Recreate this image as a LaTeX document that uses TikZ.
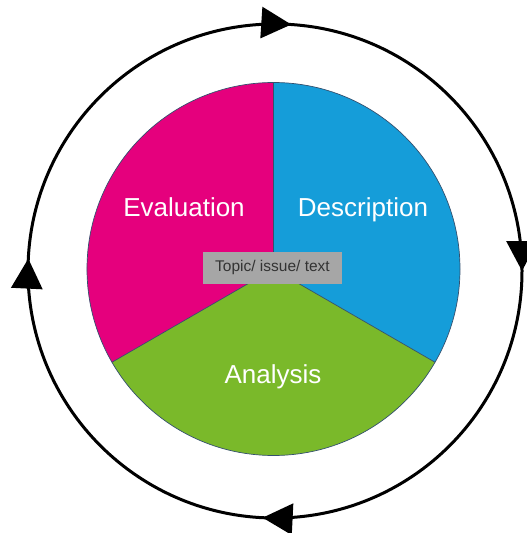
\documentclass[tikz,border=0pt]{standalone}
\usepackage{fontspec}
\setmainfont{Liberation Sans}
\usetikzlibrary{arrows.meta,decorations.markings}
\definecolor{evalc}{HTML}{E5007D}
\definecolor{descc}{HTML}{159DD9}
\definecolor{anac}{HTML}{7AB92A}
\definecolor{edgec}{HTML}{34506E}
\definecolor{boxc}{HTML}{A6A6A6}
\definecolor{boxtext}{HTML}{333333}
\begin{document}
\begin{tikzpicture}[x=1pt,y=1pt,
  sector/.style={draw=edgec,line width=0.7pt},
  seclabel/.style={text=white,font=\fontsize{26}{30}\selectfont,inner sep=0pt,anchor=base},
  >={Triangle[length=30pt,width=31pt]}]
\useasboundingbox (0,0) rectangle (527,533);
\clip (0,0) rectangle (527,533);
\coordinate (c) at (273.5,264);
\coordinate (o) at (275,262);
% pie sectors
\fill[descc] (c) -- ++(90:186.5) arc[start angle=90,end angle=-30,radius=186.5] -- cycle;
\fill[anac] (c) -- ++(-30:186.5) arc[start angle=-30,end angle=-150,radius=186.5] -- cycle;
\fill[evalc] (c) -- ++(210:186.5) arc[start angle=210,end angle=90,radius=186.5] -- cycle;
\draw[sector] (c) circle[radius=186.5];
\draw[sector] (c) -- ++(90:186.5);
\draw[sector] (c) -- ++(-30:186.5);
\draw[sector] (c) -- ++(210:186.5);
% labels
\node[seclabel] (eval) at (184,316) {Evaluation};
\node[seclabel] (desc) at (363,316) {Description};
\node[seclabel] (ana) at (273,149) {Analysis};
\node[fill=boxc,text=boxtext,minimum width=139pt,minimum height=32pt,inner sep=0pt,
  text height=11.5pt,text depth=3.5pt,
  font=\fontsize{15.5}{18}\selectfont] (topic) at (272.5,265) {Topic/ issue/ text};
% outer cycle
\draw[line width=3pt,postaction={decorate},
  decoration={markings,
    mark=at position 0.0105 with {\arrow{>}},
    mark=at position 0.25 with {\arrow{>}},
    mark=at position 0.508 with {\arrow{>}},
    mark=at position 0.758 with {\arrow{>}}}]
  (o) ++(90:247) arc[start angle=90,end angle=-270,radius=247];
\end{tikzpicture}
\end{document}
